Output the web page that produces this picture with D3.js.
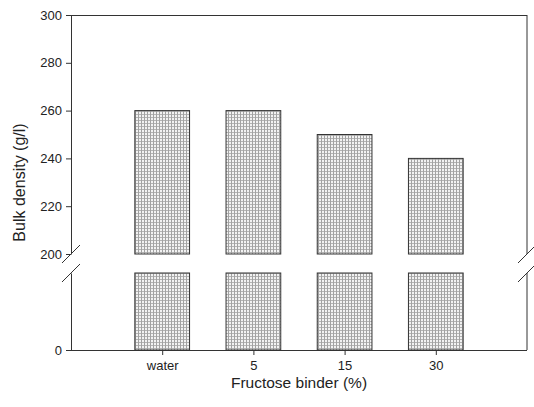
<!DOCTYPE html>
<html>
<head>
<meta charset="utf-8">
<script src="https://cdn.jsdelivr.net/npm/d3@7"></script>
<style>
  html, body { margin: 0; padding: 0; background: #fff; }
  svg { display: block; font-family: "Liberation Sans", Arial, sans-serif; }
</style>
</head>
<body>
<svg id="chart" width="534" height="407"></svg>
<script>
// Bulk density of granules by binder type
const categories = ["water", "5", "15", "30"];
const bulkDensity = [260, 260, 250, 240];
const upperTicks = [200, 220, 240, 260, 280, 300];
const lowerTicks = [0];

const svg = d3.select("#chart");
const left = 71, right = 527;
const upperTop = 15, upperBottom = 254;
const lowerTop = 273, lowerBottom = 350;
const axisColor = "#333";

// speckled grey fill for the bars
const defs = svg.append("defs");
const pat = defs.append("pattern")
  .attr("id", "dots").attr("patternUnits", "userSpaceOnUse")
  .attr("width", 3).attr("height", 3);
pat.append("rect").attr("width", 3).attr("height", 3).attr("fill", "#f2f2f2");
pat.append("rect").attr("width", 3).attr("height", 1).attr("fill", "#b4b4b4");
pat.append("rect").attr("width", 1).attr("height", 3).attr("fill", "#a2a2a2");

const x = d3.scalePoint().domain(categories).range([left, right]).padding(1);
const barW = x.step() * 0.6;
const yUp = d3.scaleLinear().domain([200, 300]).range([upperBottom, upperTop]);
const yLow = d3.scaleLinear().domain([0, 160]).range([lowerBottom, lowerTop]).clamp(true);

const data = categories.map((c, i) => ({ c, v: bulkDensity[i] }));

// upper panel bars
svg.append("g").selectAll("rect").data(data).join("rect")
  .attr("x", d => x(d.c) - barW / 2)
  .attr("y", d => yUp(d.v))
  .attr("width", barW)
  .attr("height", d => yUp(200) - yUp(d.v))
  .attr("fill", "url(#dots)")
  .attr("stroke", "#333").attr("stroke-width", 1);

// lower panel bars (continue below the break)
svg.append("g").selectAll("rect").data(data).join("rect")
  .attr("x", d => x(d.c) - barW / 2)
  .attr("y", d => yLow(d.v))
  .attr("width", barW)
  .attr("height", d => yLow(0) - yLow(d.v))
  .attr("fill", "url(#dots)")
  .attr("stroke", "#333").attr("stroke-width", 1);

// left axis, upper segment
const gUp = svg.append("g").attr("transform", `translate(${left},0)`)
  .call(d3.axisLeft(yUp).tickValues(upperTicks).tickSize(5).tickSizeOuter(0).tickPadding(4));
// left axis, lower segment
const gLow = svg.append("g").attr("transform", `translate(${left},0)`)
  .call(d3.axisLeft(yLow).tickValues(lowerTicks).tickSize(5).tickSizeOuter(0).tickPadding(4));
// bottom axis
const gX = svg.append("g").attr("transform", `translate(0,${lowerBottom})`)
  .call(d3.axisBottom(x).tickSize(5).tickSizeOuter(0).tickPadding(6));

[gUp, gLow, gX].forEach(g => {
  g.selectAll("path, line").attr("stroke", axisColor);
  g.selectAll("text").attr("font-size", 13).attr("fill", "#222")
    .attr("font-family", "Liberation Sans, Arial, sans-serif");
});
gX.select("path.domain").attr("d", `M${left},0.5H${right}`);

// top and right frame
svg.append("line").attr("x1", left).attr("x2", right)
  .attr("y1", upperTop + 0.5).attr("y2", upperTop + 0.5).attr("stroke", axisColor);
svg.append("line").attr("x1", right).attr("x2", right)
  .attr("y1", upperTop).attr("y2", upperBottom).attr("stroke", axisColor);
svg.append("line").attr("x1", right).attr("x2", right)
  .attr("y1", lowerTop).attr("y2", lowerBottom).attr("stroke", axisColor);

// break marks on both vertical axes
[left, right].forEach(xx => {
  [upperBottom, lowerTop].forEach(yy => {
    svg.append("line")
      .attr("x1", xx - 9).attr("y1", yy + 9)
      .attr("x2", xx + 9).attr("y2", yy - 9)
      .attr("stroke", axisColor).attr("stroke-width", 1);
  });
});

// axis titles
svg.append("text")
  .attr("transform", `translate(25,${(upperTop + lowerBottom) / 2}) rotate(-90)`)
  .attr("text-anchor", "middle")
  .attr("font-size", 16).attr("fill", "#222")
  .text("Bulk density (g/l)");
svg.append("text")
  .attr("x", (left + right) / 2).attr("y", 388)
  .attr("text-anchor", "middle")
  .attr("font-size", 15.5).attr("fill", "#222")
  .text("Fructose binder (%)");
</script>
</body>
</html>
